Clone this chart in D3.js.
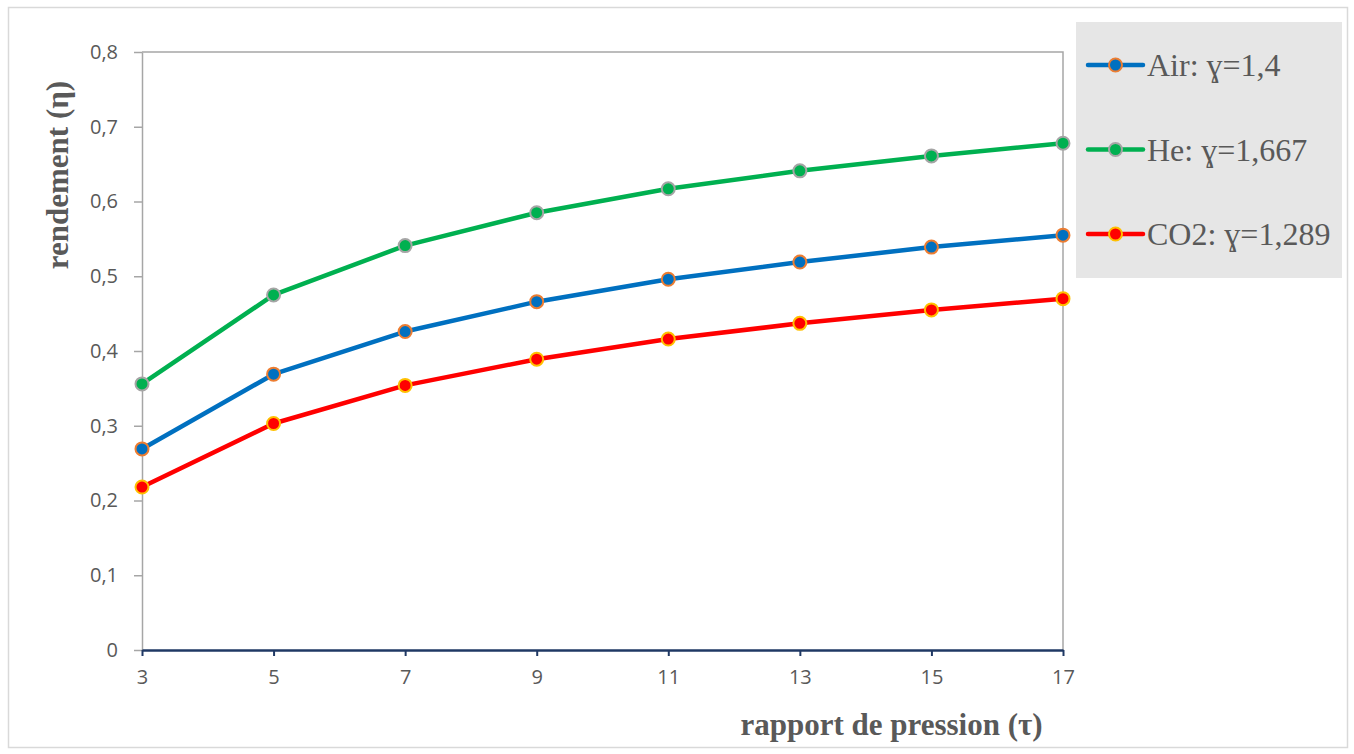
<!DOCTYPE html>
<html>
<head>
<meta charset="utf-8">
<script src="https://cdn.jsdelivr.net/npm/d3@7"></script>
<style>
  html, body { margin: 0; padding: 0; background: #fff; }
  svg { display: block; }
</style>
</head>
<body>
<svg id="chart" width="1354" height="754"></svg>
<script>
// data
const pressureRatios = [3, 5, 7, 9, 11, 13, 15, 17];
const airValues = [0.269, 0.369, 0.426, 0.466, 0.496, 0.519, 0.539, 0.555];
const heValues  = [0.356, 0.475, 0.541, 0.585, 0.617, 0.641, 0.661, 0.678];
const co2Values = [0.218, 0.303, 0.354, 0.389, 0.416, 0.437, 0.455, 0.470];
const seriesNames = ["Air: ɣ=1,4", "He: ɣ=1,667", "CO2: ɣ=1,289"];
const yTicks = [0, 0.1, 0.2, 0.3, 0.4, 0.5, 0.6, 0.7, 0.8];

const series = [
  { name: seriesNames[0], values: airValues, line: "#0070C0", fill: "#0070C0", stroke: "#ED7D31" },
  { name: seriesNames[1], values: heValues,  line: "#00B050", fill: "#00B050", stroke: "#A5A5A5" },
  { name: seriesNames[2], values: co2Values, line: "#FF0000", fill: "#FF0000", stroke: "#FFC000" }
];

const svg = d3.select("#chart"),
      m   = { left: 142, right: 1063, top: 52, bottom: 650 },
      textGray = "#595959";

// outer chart border
svg.append("rect")
  .attr("x", 8.5).attr("y", 7.5)
  .attr("width", 1339).attr("height", 740)
  .attr("fill", "#fff")
  .attr("stroke", "#D9D9D9")
  .attr("stroke-width", 1.5);

const x = d3.scaleLinear()
    .domain([3, 17])
    .range([m.left, m.right]);

const y = d3.scaleLinear()
    .domain([0, 0.8])
    .range([m.bottom, m.top]);

const fmt = d => d3.format(".1f")(d).replace(".", ",");

// plot area frame (top + right)
svg.append("path")
  .attr("d", `M${m.left},${m.top}H${m.right}V${m.bottom}`)
  .attr("fill", "none")
  .attr("stroke", "#A6A6A6")
  .attr("stroke-width", 1.5);

// y axis
const yAxis = svg.append("g")
  .attr("transform", `translate(${m.left},0)`)
  .call(d3.axisLeft(y).tickValues(yTicks).tickFormat(d => d === 0 ? "0" : fmt(d))
          .tickSizeInner(8).tickSizeOuter(0).tickPadding(16));
yAxis.select(".domain").attr("stroke", "#A6A6A6").attr("stroke-width", 1.5);
yAxis.selectAll(".tick line").attr("stroke", "#A6A6A6").attr("stroke-width", 1.5);
yAxis.attr("font-size", null).attr("font-family", null);
yAxis.selectAll("text")
  .attr("fill", textGray)
  .style("font-family", "'Open Sans', sans-serif")
  .style("font-size", "20px");

// x axis
const xAxis = svg.append("g")
  .attr("transform", `translate(0,${m.bottom})`)
  .call(d3.axisBottom(x).tickValues(pressureRatios).tickFormat(d3.format("d"))
          .tickSizeInner(6).tickSizeOuter(0).tickPadding(14));
xAxis.select(".domain").attr("stroke", "#1F3864").attr("stroke-width", 2.5);
xAxis.selectAll(".tick line").attr("stroke", "#1F3864").attr("stroke-width", 2);
xAxis.attr("font-size", null).attr("font-family", null);
xAxis.selectAll("text")
  .attr("fill", textGray)
  .style("font-family", "'Open Sans', sans-serif")
  .style("font-size", "20px");

// axis titles
svg.append("text")
  .attr("x", (735 + 1048) / 2).attr("y", 735)
  .attr("text-anchor", "middle")
  .attr("fill", textGray)
  .style("font-family", "'Liberation Serif', serif")
  .style("font-weight", "bold")
  .style("font-size", "31px")
  .text("rapport de pression (τ)");

svg.append("text")
  .attr("transform", "translate(68,175) rotate(-90)")
  .attr("text-anchor", "middle")
  .attr("fill", textGray)
  .style("font-family", "'Liberation Serif', serif")
  .style("font-weight", "bold")
  .style("font-size", "31px")
  .text("rendement (η)");

// lines + markers
const line = d3.line()
  .x((d, i) => x(pressureRatios[i]))
  .y(d => y(d));

series.forEach(s => {
  svg.append("path")
    .datum(s.values)
    .attr("d", line)
    .attr("fill", "none")
    .attr("stroke", s.line)
    .attr("stroke-width", 4.5)
    .attr("stroke-linejoin", "round");

  svg.append("g").selectAll("circle")
    .data(s.values).enter().append("circle")
      .attr("cx", (d, i) => x(pressureRatios[i]))
      .attr("cy", d => y(d))
      .attr("r", 6.5)
      .attr("fill", s.fill)
      .attr("stroke", s.stroke)
      .attr("stroke-width", 2);
});

// legend
const legend = svg.append("g");
legend.append("rect")
  .attr("x", 1076).attr("y", 22)
  .attr("width", 266).attr("height", 256)
  .attr("fill", "#E6E6E6");

const legendY = d3.scalePoint()
  .domain(seriesNames)
  .range([65, 234]);

series.forEach(s => {
  const row = legend.append("g")
    .attr("transform", `translate(0,${legendY(s.name)})`);
  row.append("line")
    .attr("x1", 1088).attr("x2", 1143)
    .attr("stroke", s.line)
    .attr("stroke-width", 4.5)
    .attr("stroke-linecap", "round");
  row.append("circle")
    .attr("cx", 1115.5)
    .attr("r", 6.5)
    .attr("fill", s.fill)
    .attr("stroke", s.stroke)
    .attr("stroke-width", 2);
  row.append("text")
    .attr("x", 1147).attr("y", 0)
    .attr("dy", "0.35em")
    .attr("fill", textGray)
    .style("font-family", "'Liberation Serif', 'DejaVu Serif', serif")
    .style("font-size", "32px")
    .text(s.name);
});
</script>
</body>
</html>
